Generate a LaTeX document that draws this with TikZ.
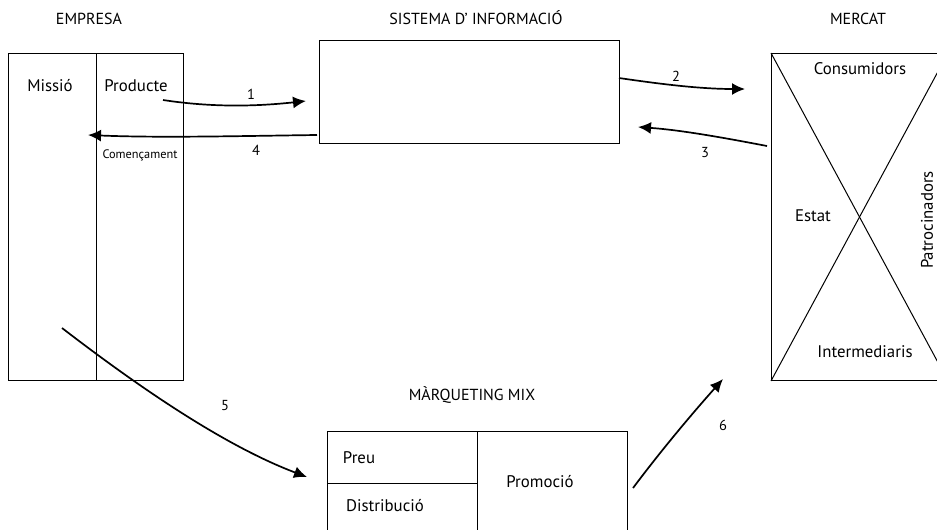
\documentclass[tikz,border=0pt]{standalone}
\usepackage{fontspec}
\setmainfont{PT Sans}
\usetikzlibrary{arrows.meta}
\tikzset{
  box/.style={draw, line width=1pt, inner sep=0pt, anchor=north west},
  divline/.style={line width=1pt},
  flow/.style={line width=1.7pt, -{Latex[length=13pt,width=12pt]}},
  head/.style={font=\fontsize{16}{18}\selectfont},
  lbl/.style={font=\fontsize{16.8}{18}\selectfont},
  num/.style={font=\fontsize{14.5}{16}\selectfont},
  small/.style={font=\fontsize{12.3}{14}\selectfont}
}
\begin{document}
\begin{tikzpicture}[x=1pt,y=-1pt]
\useasboundingbox (0,0) rectangle (937,530);
% headers
\node[head] (hemp) at (89,19) {EMPRESA};
\node[head] (hsis) at (476,18) {SISTEMA D’ INFORMACIÓ};
\node[head] (hmer) at (858,19) {MERCAT};
\node[head] (hmix) at (472,395) {MÀRQUETING MIX};
% EMPRESA box
\node[box, minimum width=175pt, minimum height=327pt] (emp) at (8,53) {};
\coordinate (empdt) at (96,53);
\coordinate (empdb) at (96,380);
\draw[divline] (empdt) -- (empdb);
\node[lbl] (missio) at (50,86) {Missió};
\node[lbl] (producte) at (136,86) {Producte};
\node[small] (comen) at (140,155) {Començament};
% SISTEMA box
\node[box, minimum width=300pt, minimum height=103pt] (sis) at (319,40) {};
% MERCAT box (extends past the right edge, clipped)
\begin{scope}
\clip (0,0) rectangle (937,530);
\node[box, minimum width=176pt, minimum height=327pt] (mer) at (771,53) {};
\draw[divline] (mer.north west) -- (mer.south east);
\draw[divline] (mer.south west) -- (mer.north east);
% MARQUETING MIX box (extends past the bottom edge, clipped)
\node[box, minimum width=300pt, minimum height=140pt] (mix) at (327,431) {};
\coordinate (mixdt) at (477,431);
\coordinate (mixdb) at (477,571);
\draw[divline] (mixdt) -- (mixdb);
\end{scope}
\node[lbl] (cons) at (860,69) {Consumidors};
\node[lbl] (estat) at (813,216) {Estat};
\node[lbl, rotate=90, inner sep=0pt] (patro) at (927,220) {Patrocinadors};
\node[lbl] (inter) at (865,352) {Intermediaris};
\coordinate (mixhl) at (327,483);
\coordinate (mixhr) at (477,483);
\draw[divline] (mixhl) -- (mixhr);
\node[lbl] (preu) at (359,458) {Preu};
\node[lbl] (distr) at (385,506) {Distribució};
\node[lbl] (promo) at (540,482) {Promoció};
% arrow end points
\coordinate (a1s) at (163,100);
\coordinate (a1e) at (306,101);
\coordinate (a2s) at (619,78);
\coordinate (a2e) at (745,89);
\coordinate (a3s) at (767,146);
\coordinate (a3e) at (638,127);
\coordinate (a4s) at (317,135);
\coordinate (a4e) at (88,135);
\coordinate (a5s) at (62,328);
\coordinate (a5e) at (307,477);
\coordinate (a6s) at (633,488);
\coordinate (a6e) at (723,379);
% arrows
\draw[flow] (a1s) .. controls (215,108) and (260,106) .. (a1e);
\draw[flow] (a2s) .. controls (660,84) and (700,89) .. (a2e);
\draw[flow] (a3s) .. controls (720,137) and (680,130) .. (a3e);
\draw[flow] (a4s) .. controls (240,136) and (160,138) .. (a4e);
\draw[flow] (a5s) .. controls (140,388) and (225,446) .. (a5e);
\draw[flow] (a6s) .. controls (660,452) and (690,416) .. (a6e);
% numbers
\node[num] (n1) at (251,94) {1};
\node[num] (n2) at (676,76) {2};
\node[num] (n3) at (705,153) {3};
\node[num] (n4) at (256,150) {4};
\node[num] (n5) at (225,406) {5};
\node[num] (n6) at (723,425) {6};
\end{tikzpicture}
\end{document}
